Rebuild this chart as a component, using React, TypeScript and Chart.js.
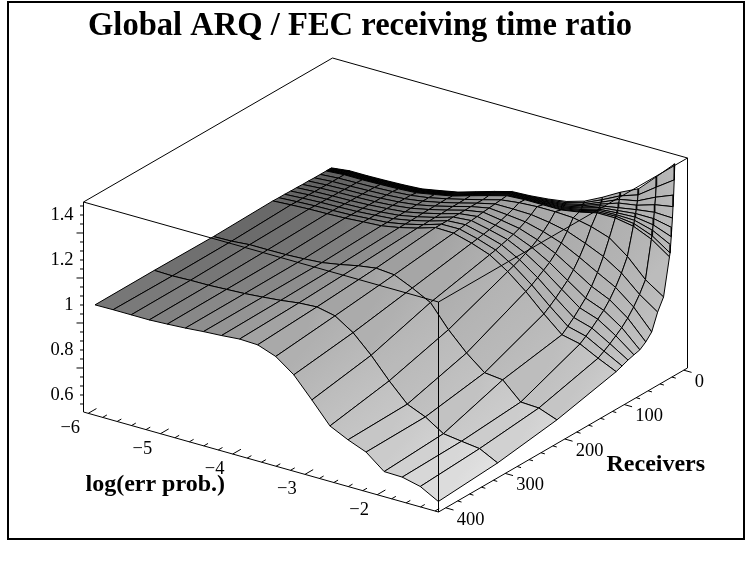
import React, { useEffect, useRef } from "react";
import { Chart, registerables } from "chart.js";

Chart.register(...registerables);

const TITLE = "Global ARQ / FEC receiving time ratio";
const X_LABEL = "log(err prob.)";
const Y_LABEL = "Receivers";

const errLog = [-6, -5.75, -5.5, -5.25, -5, -4.75, -4.5, -4.25, -4, -3.75, -3.5, -3.25, -3, -2.75, -2.5, -2.25, -2, -1.75, -1.5, -1.25];
const receivers = [1, 2, 3, 4, 5, 6, 7, 8, 9, 10, 20, 30, 40, 50, 60, 70, 80, 90, 100, 200, 300, 400];

const r1 = [1.016,1.026,1.026,1.028,1.031,1.036,1.051,1.067,1.091,1.115,1.137,1.141,1.149,1.161,1.185,1.225,1.27,1.308,1.385,1.464];
const r2 = [1.016,1.025,1.025,1.027,1.03,1.035,1.05,1.066,1.09,1.114,1.136,1.14,1.147,1.157,1.179,1.215,1.255,1.282,1.339,1.394];
const r3 = [1.016,1.025,1.025,1.027,1.03,1.035,1.05,1.066,1.09,1.113,1.135,1.14,1.145,1.153,1.173,1.206,1.241,1.257,1.296,1.328];
const r4 = [1.016,1.024,1.024,1.026,1.029,1.034,1.049,1.065,1.089,1.113,1.135,1.139,1.143,1.15,1.169,1.199,1.226,1.239,1.264,1.278];
const r5 = [1.016,1.024,1.024,1.026,1.029,1.034,1.049,1.065,1.089,1.112,1.134,1.139,1.142,1.147,1.164,1.193,1.207,1.221,1.232,1.229];
const r6 = [1.016,1.023,1.023,1.025,1.028,1.033,1.048,1.064,1.088,1.112,1.134,1.138,1.141,1.144,1.161,1.187,1.196,1.205,1.205,1.188];
const r7 = [1.016,1.023,1.023,1.025,1.028,1.033,1.048,1.064,1.088,1.111,1.133,1.138,1.14,1.142,1.157,1.181,1.187,1.191,1.179,1.149];
const r8 = [1.016,1.022,1.022,1.025,1.028,1.033,1.048,1.063,1.087,1.111,1.133,1.137,1.138,1.14,1.154,1.177,1.18,1.178,1.156,1.114];
const r9 = [1.016,1.022,1.022,1.024,1.027,1.032,1.047,1.063,1.087,1.11,1.132,1.137,1.137,1.138,1.151,1.172,1.175,1.165,1.134,1.08];
const r10 = [1.016,1.022,1.022,1.024,1.027,1.032,1.047,1.063,1.087,1.11,1.132,1.137,1.137,1.137,1.15,1.169,1.169,1.155,1.12,1.064];
const r20 = [1.016,1.022,1.024,1.026,1.03,1.036,1.048,1.066,1.086,1.107,1.129,1.139,1.144,1.144,1.14,1.123,1.096,1.036,.955,.901];
const r30 = [1.016,1.022,1.024,1.027,1.03,1.036,1.048,1.065,1.085,1.107,1.126,1.126,1.124,1.112,1.095,1.064,1.028,.977,.905,.849];
const r40 = [1.017,1.022,1.025,1.027,1.031,1.037,1.047,1.064,1.085,1.107,1.123,1.116,1.107,1.086,1.058,1.017,.972,.929,.864,.776];
const r50 = [1.017,1.023,1.026,1.028,1.031,1.037,1.047,1.064,1.084,1.106,1.12,1.107,1.093,1.065,1.027,.977,.926,.889,.83,.747];
const r60 = [1.018,1.023,1.026,1.028,1.032,1.038,1.046,1.063,1.083,1.106,1.116,1.1,1.082,1.048,1.002,.945,.889,.857,.803,.727];
const r70 = [1.018,1.024,1.027,1.029,1.032,1.038,1.046,1.062,1.082,1.106,1.113,1.095,1.074,1.035,.983,.921,.861,.833,.782,.72];
const r80 = [1.019,1.024,1.028,1.03,1.033,1.039,1.046,1.061,1.081,1.105,1.11,1.09,1.066,1.022,.965,.897,.833,.809,.762,.712];
const r90 = [1.019,1.024,1.028,1.03,1.033,1.039,1.045,1.06,1.08,1.105,1.106,1.085,1.058,1.01,.948,.876,.809,.788,.744,.701];
const r100 = [1.02,1.025,1.029,1.031,1.034,1.04,1.045,1.06,1.08,1.105,1.103,1.081,1.052,1.0,.934,.857,.787,.769,.728,.691];
const r200 = [1.014,1.016,1.023,1.023,1.024,1.028,1.034,1.048,1.065,1.077,1.07,1.034,.992,.894,.813,.748,.739,.663,.659,.629];
const r300 = [1.016,1.014,1.017,1.018,1.022,1.026,1.033,1.041,1.052,1.057,1.04,.988,.91,.819,.738,.704,.652,.641,.631,.59];
const r400 = [1.015,1.016,1.016,1.016,1.02,1.025,1.032,1.037,1.044,1.041,1.012,.953,.864,.771,.732,.7,.636,.634,.615,.571];
const ratio = [r1, r2, r3, r4, r5, r6, r7, r8, r9, r10, r20, r30, r40, r50, r60, r70, r80, r90, r100, r200, r300, r400];

const errTicks = [-6, -5, -4, -3, -2];
const recvTicks = [0, 100, 200, 300, 400];
const ratioTicks = [0.6, 0.8, 1, 1.2, 1.4];
const ratioTickLabels = ["0.6", "0.8", "1", "1.2", "1.4"];

const shadeFront = [122,126,130,134,140,146,152,158,166,172,178,184,190,196,202,208,214,220,226,232];
const shadeBack = [94,96,100,104,108,114,122,130,140,150,158,162,165,167,168,170,172,174,178,184];

// orthographic view of the plot box
const ORIGIN = [83.5, 412];
const U = [355, 100];
const V = [249, -144];
const Z_PX = 225;
const Z_MIN = 0.5244;
const Z_MAX = Z_MIN + 210 / Z_PX;

const project = (u: number, v: number, z: number) => ({
  x: ORIGIN[0] + U[0] * u + V[0] * v,
  y: ORIGIN[1] + U[1] * u + V[1] * v - Z_PX * (z - Z_MIN),
});
const surfU = (e: number) => 0.0325 + 0.2036 * (e + 6);
const surfV = (r: number) => 0.00238 * (400 - r);
const tickU = (e: number) => 0.0133 + 0.2035 * (e + 6);
const tickV = (r: number) => 0.029 + 0.00239 * (400 - r);

const line = (data: { x: number; y: number }[], color = "#000", width = 1) => ({
  data,
  showLine: true,
  fill: false,
  borderColor: color,
  borderWidth: width,
  pointRadius: 0,
  tension: 0,
});

const gradientCtx = document.createElement("canvas").getContext("2d")!;

function buildDatasets() {
  const painted: any[] = [];
  for (let ri = 0; ri < receivers.length - 1; ri++) {
    for (let ci = 0; ci < errLog.length - 1; ci++) {
      const pt = (a: number, b: number) => project(surfU(errLog[b]), surfV(receivers[a]), ratio[a][b]);
      const t = 1 - 0.5 * (surfV(receivers[ri]) + surfV(receivers[ri + 1]));
      const gray = (c: number) => Math.round(shadeFront[c] * t + shadeBack[c] * (1 - t));
      const a = pt(ri, ci);
      const d = pt(ri, ci + 1);
      const grad = gradientCtx.createLinearGradient(a.x, a.y, d.x, d.y);
      grad.addColorStop(0, `rgb(${gray(ci)},${gray(ci)},${gray(ci)})`);
      grad.addColorStop(1, `rgb(${gray(ci + 1)},${gray(ci + 1)},${gray(ci + 1)})`);
      painted.push({
        ...line([pt(ri, ci), pt(ri, ci + 1), pt(ri + 1, ci + 1), pt(ri + 1, ci), pt(ri, ci)]),
        fill: "shape",
        backgroundColor: grad,
      });
    }
  }
  const c = (u: number, v: number, w: number) => project(u, v, Z_MIN + w * (Z_MAX - Z_MIN));
  const box: [number, number, number, number, number, number][] = [
    [0, 0, 0, 1, 0, 0],
    [1, 0, 0, 1, 1, 0],
    [0, 0, 0, 0, 0, 1],
    [1, 0, 0, 1, 0, 1],
    [1, 1, 0, 1, 1, 1],
    [0, 0, 1, 1, 0, 1],
    [1, 0, 1, 1, 1, 1],
    [0, 0, 1, 0, 1, 1],
    [0, 1, 1, 1, 1, 1],
  ];
  box.forEach((b) => painted.push(line([c(b[0], b[1], b[2]), c(b[3], b[4], b[5])])));

  for (let k = 0; k <= 24; k++) {
    const e = -6 + k * 0.2;
    const len = k % 5 === 0 ? 0.033 : 0.017;
    const p = project(tickU(e), 0, Z_MIN);
    const q = project(tickU(e), len, Z_MIN);
    painted.push(line([p, q]));
  }
  for (let k = 0; k <= 20; k++) {
    const r = k * 20;
    const len = k % 5 === 0 ? 0.022 : 0.011;
    const p = project(1, tickV(r), Z_MIN);
    const q = project(1 + len, tickV(r), Z_MIN);
    painted.push(line([p, q]));
  }
  for (let k = 0; k <= 22; k++) {
    const z = 0.56 + k * 0.04;
    const major = (k + 1) % 5 === 0;
    const p = project(0, 0, z);
    painted.push(line([p, { x: p.x - (major ? 7 : 3.5), y: p.y }]));
  }
  return painted.reverse();
}

const textPlugin = {
  id: "plotText",
  afterDatasetsDraw(chart: any) {
    const ctx = chart.ctx;
    const sx = chart.scales.x;
    const sy = chart.scales.y;
    const put = (text: string, x: number, y: number, font: string, align: CanvasTextAlign, base: CanvasTextBaseline, maxW?: number) => {
      ctx.font = font;
      ctx.textAlign = align;
      ctx.textBaseline = base;
      ctx.fillStyle = "#000";
      if (maxW) ctx.fillText(text, sx.getPixelForValue(x), sy.getPixelForValue(y), maxW);
      else ctx.fillText(text, sx.getPixelForValue(x), sy.getPixelForValue(y));
    };
    ctx.save();
    const tickFont = '18.5px "Liberation Serif"';
    const boldFont = 'bold 24px "Liberation Serif"';
    ratioTicks.forEach((z, i) => {
      const p = project(0, 0, z);
      put(ratioTickLabels[i], p.x - 10, p.y, tickFont, "right", "middle");
    });
    errTicks.forEach((e) => {
      const p = project(tickU(e), 0, Z_MIN);
      put("\u2212" + Math.abs(e), p.x - 18, p.y + 15, tickFont, "center", "middle");
    });
    recvTicks.forEach((r) => {
      const p = project(1, tickV(r), Z_MIN);
      put(String(r), p.x + 11, p.y + 12, tickFont, "left", "middle");
    });
    put(X_LABEL, 85.5, 491, boldFont, "left", "alphabetic");
    put(Y_LABEL, 606.5, 471, boldFont, "left", "alphabetic");
    put(TITLE, 360, 35, 'bold 34px "Liberation Serif"', "center", "alphabetic", 544);
    ctx.restore();
  },
};

export default function App() {
  const ref = useRef<HTMLCanvasElement>(null);
  useEffect(() => {
    const chart = new Chart(ref.current!, {
      type: "scatter",
      data: { datasets: buildDatasets() },
      plugins: [textPlugin],
      options: {
        animation: false,
        responsive: false,
        layout: { padding: 0 },
        plugins: { legend: { display: false }, tooltip: { enabled: false }, title: { display: false } },
        scales: {
          x: { type: "linear", display: false, min: 0, max: 752 },
          y: { type: "linear", display: false, min: 0, max: 569, reverse: true },
        },
      },
    } as any);
    return () => chart.destroy();
  }, []);
  return (
    <div style={{ position: "fixed", left: 0, top: 0, width: 752, height: 569, background: "#fff" }}>
      <canvas ref={ref} width={752} height={569} style={{ display: "block" }} />
      <div style={{ position: "absolute", left: 7, top: 1, width: 738, height: 539, border: "2px solid #000", boxSizing: "border-box", pointerEvents: "none" }} />
    </div>
  );
}
